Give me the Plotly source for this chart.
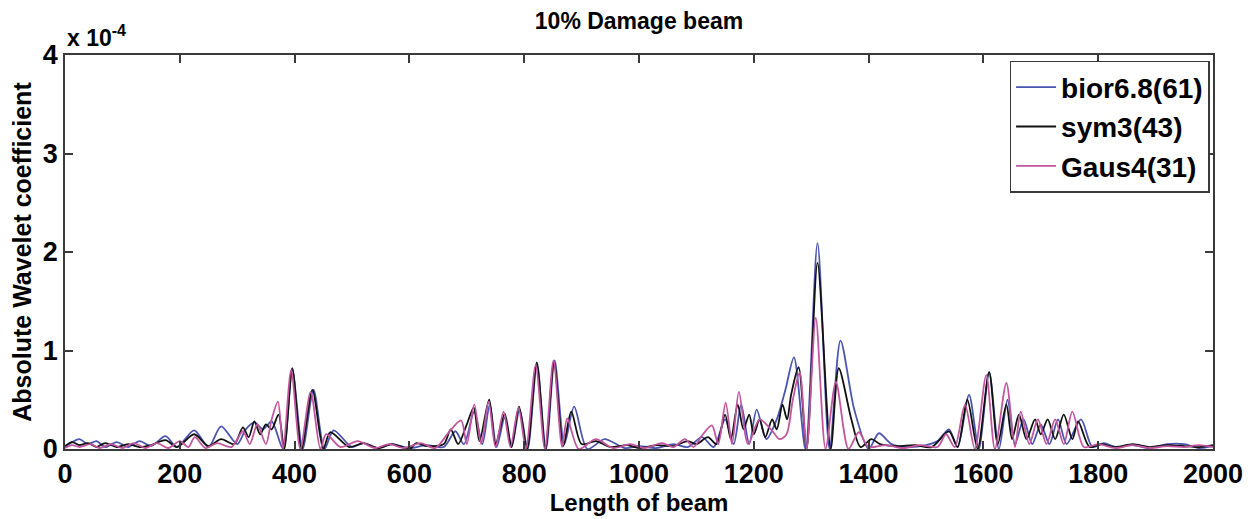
import plotly.graph_objects as go

# Values in units of 1e-4 (axis shows "x 10^-4")
bior_x = [0, 10, 25, 40, 55, 70, 90, 110, 130, 150, 175, 195, 225, 250, 272, 300, 315, 330, 345, 360,
          380, 396, 414, 433, 452, 468, 500, 520, 545, 570, 600, 630, 660, 680, 695, 713, 727, 740, 752,
          766, 778, 792, 806, 822, 838, 853, 870, 887, 910, 940, 975, 1000, 1030, 1060, 1085, 1110, 1130,
          1150, 1165, 1178, 1192, 1205, 1222, 1240, 1255, 1270, 1290, 1311, 1332, 1351, 1375, 1400, 1418,
          1440, 1470, 1500, 1520, 1540, 1555, 1575, 1592, 1610, 1627, 1642, 1655, 1670, 1685, 1700, 1715,
          1730, 1745, 1770, 1790, 1810, 1830, 1860, 1890, 1920, 1950, 1975, 2000]
bior_y = [0.02, 0.06, 0.1, 0.05, 0.08, 0.02, 0.07, 0.02, 0.08, 0.03, 0.13, 0.02, 0.19, 0.02, 0.23, 0.05,
          0.2, 0.27, 0.2, 0.28, 0.0, 0.8, 0.0, 0.6, 0.0, 0.19, 0.02, 0.06, 0.01, 0.05, 0.01, 0.04, 0.02,
          0.18, 0.05, 0.38, 0.05, 0.45, 0.02, 0.32, 0.02, 0.4, 0.0, 0.85, 0.0, 0.9, 0.05, 0.43, 0.0, 0.1,
          0.01, 0.03, 0.01, 0.05, 0.02, 0.12, 0.02, 0.3, 0.05, 0.45, 0.05, 0.4, 0.1, 0.3, 0.6, 0.93, 0.0,
          2.09, 0.0, 1.1, 0.4, 0.0, 0.16, 0.05, 0.02, 0.04, 0.08, 0.2, 0.02, 0.55, 0.0, 0.78, 0.0, 0.5,
          0.05, 0.3, 0.05, 0.25, 0.05, 0.3, 0.05, 0.3, 0.02, 0.06, 0.02, 0.04, 0.01, 0.05, 0.05, 0.01, 0.03]

sym_x = [0, 12, 25, 40, 55, 70, 90, 110, 130, 150, 175, 195, 225, 250, 272, 295, 310, 320, 330, 340, 350,
         360, 372, 382, 396, 412, 431, 450, 462, 495, 520, 545, 570, 600, 612, 630, 660, 672, 685, 700, 712,
         722, 739, 750, 766, 778, 791, 805, 822, 837, 852, 868, 882, 900, 925, 950, 980, 1000, 1030, 1060,
         1085, 1100, 1120, 1135, 1150, 1160, 1172, 1182, 1192, 1200, 1210, 1220, 1232, 1240, 1250, 1258,
         1265, 1278, 1292, 1311, 1334, 1348, 1370, 1386, 1405, 1420, 1450, 1480, 1510, 1540, 1555, 1572,
         1590, 1610, 1625, 1640, 1650, 1662, 1675, 1690, 1700, 1712, 1725, 1740, 1755, 1765, 1785, 1805,
         1830, 1860, 1890, 1920, 1950, 1975, 2000]
sym_y = [0.03, 0.07, 0.04, 0.06, 0.02, 0.06, 0.02, 0.05, 0.02, 0.04, 0.09, 0.02, 0.15, 0.03, 0.1, 0.05,
         0.22, 0.12, 0.28, 0.15, 0.25, 0.2, 0.35, 0.0, 0.82, 0.0, 0.6, 0.0, 0.17, 0.02, 0.06, 0.01, 0.05,
         0.0, 0.06, 0.03, 0.05, 0.2, 0.05, 0.25, 0.42, 0.08, 0.5, 0.05, 0.36, 0.02, 0.43, 0.0, 0.88, 0.0,
         0.88, 0.03, 0.38, 0.05, 0.08, 0.02, 0.04, 0.01, 0.04, 0.03, 0.08, 0.05, 0.12, 0.05, 0.35, 0.1,
         0.45, 0.2, 0.35, 0.15, 0.3, 0.12, 0.3, 0.2, 0.45, 0.3, 0.55, 0.83, 0.0, 1.89, 0.0, 0.82, 0.3,
         0.02, 0.1, 0.05, 0.03, 0.04, 0.02, 0.18, 0.02, 0.5, 0.0, 0.78, 0.05, 0.45, 0.1, 0.35, 0.1, 0.3,
         0.15, 0.3, 0.1, 0.35, 0.1, 0.28, 0.02, 0.05, 0.02, 0.05, 0.02, 0.04, 0.03, 0.02, 0.04]

gaus_x = [0, 12, 25, 45, 60, 80, 100, 120, 140, 160, 180, 200, 215, 226, 245, 265, 290, 310, 322, 335,
          350, 360, 371, 380, 394, 410, 428, 445, 455, 480, 510, 540, 565, 590, 620, 645, 670, 690, 700,
          713, 725, 738, 750, 764, 776, 790, 803, 820, 836, 851, 866, 875, 895, 925, 955, 985, 1010, 1040,
          1060, 1080, 1095, 1110, 1127, 1138, 1151, 1162, 1174, 1190, 1210, 1230, 1245, 1257, 1268, 1280,
          1292, 1308, 1325, 1343, 1365, 1383, 1400, 1430, 1460, 1490, 1520, 1535, 1550, 1568, 1585, 1605,
          1620, 1640, 1655, 1665, 1680, 1695, 1710, 1725, 1740, 1755, 1775, 1800, 1830, 1860, 1890, 1920,
          1950, 1975, 2000]
gaus_y = [0.01, 0.04, 0.02, 0.05, 0.01, 0.05, 0.01, 0.06, 0.01, 0.06, 0.01, 0.08, 0.02, 0.12, 0.01, 0.06,
          0.02, 0.18, 0.05, 0.25, 0.05, 0.3, 0.48, 0.0, 0.8, 0.0, 0.58, 0.0, 0.15, 0.02, 0.08, 0.01, 0.05,
          0.01, 0.06, 0.01, 0.18, 0.29, 0.05, 0.45, 0.05, 0.48, 0.02, 0.38, 0.02, 0.42, 0.0, 0.85, 0.0, 0.9,
          0.02, 0.31, 0.0, 0.1, 0.01, 0.05, 0.01, 0.06, 0.02, 0.1, 0.02, 0.14, 0.24, 0.05, 0.47, 0.05, 0.58,
          0.05, 0.3, 0.2, 0.1, 0.15, 0.5, 0.78, 0.0, 1.33, 0.0, 0.68, 0.0, 0.17, 0.02, 0.04, 0.01, 0.04,
          0.02, 0.15, 0.02, 0.45, 0.0, 0.75, 0.0, 0.67, 0.02, 0.38, 0.05, 0.3, 0.05, 0.3, 0.05, 0.38, 0.02,
          0.05, 0.01, 0.04, 0.01, 0.03, 0.02, 0.04, 0.02]

series_names = ["bior6.8(61)", "sym3(43)", "Gaus4(31)"]
series_colors = ["#4a55b0", "#111111", "#c2569e"]
x_ticks = list(range(0, 2001, 200))
y_ticks = [0, 1, 2, 3, 4]

FONT = "Liberation Sans, Arial, sans-serif"

fig = go.Figure()
for name, xs, ys, col in zip(series_names, [bior_x, sym_x, gaus_x], [bior_y, sym_y, gaus_y], series_colors):
    fig.add_trace(go.Scatter(x=xs, y=ys, mode="lines", name=name,
                             line=dict(color=col, width=1.8, shape="spline", smoothing=0.8)))

axis_common = dict(showline=True, linecolor="#3a3a3a", linewidth=1.5, mirror="ticks",
                   ticks="inside", ticklen=8, tickwidth=1.5, tickcolor="#3a3a3a",
                   showgrid=False, zeroline=False,
                   tickfont=dict(family=FONT, size=27, color="black", weight="bold"))

fig.update_xaxes(range=[0, 2000], tickvals=x_ticks, ticktext=[str(t) for t in x_ticks],
                 title=dict(text="Length of beam", font=dict(family=FONT, size=24, color="black", weight="bold"),
                            standoff=0),
                 **axis_common)
fig.update_yaxes(range=[0, 4], tickvals=y_ticks, ticktext=[str(t) for t in y_ticks],
                 title=dict(text="Absolute Wavelet coefficient",
                            font=dict(family=FONT, size=25, color="black", weight="bold"), standoff=4),
                 **axis_common)

fig.update_layout(
    width=1255, height=519,
    margin=dict(l=65, r=40, t=55, b=70),
    paper_bgcolor="white", plot_bgcolor="white",
    title=dict(text="10% Damage beam", x=0.5, xref="paper", xanchor="center", y=0.96, yanchor="middle",
               font=dict(family=FONT, size=23, color="black", weight="bold")),
    legend=dict(x=0.997, y=0.985, xanchor="right", yanchor="top", bgcolor="white",
                bordercolor="#3a3a3a", borderwidth=1.5,
                font=dict(family=FONT, size=28, color="black", weight="bold"),
                tracegroupgap=0, itemwidth=40),
    showlegend=True,
    annotations=[dict(text="x 10<sup>-4</sup>", xref="paper", yref="paper", x=0, y=1,
                      xanchor="left", yanchor="bottom", showarrow=False, yshift=2,
                      font=dict(family=FONT, size=23, color="black", weight="bold"))],
)

fig.write_html("out.html")
